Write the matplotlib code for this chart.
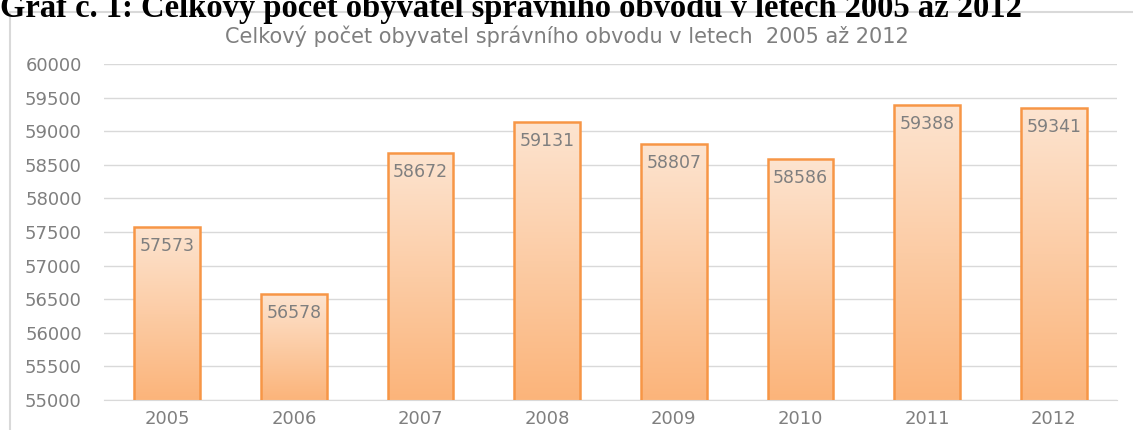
# population bar chart, 2005 - 2012
import numpy as np
import matplotlib.pyplot as plt
from matplotlib.colors import LinearSegmentedColormap
from matplotlib.patches import Rectangle

# data
years = ['2005', '2006', '2007', '2008', '2009', '2010', '2011', '2012']
population = [57573, 56578, 58672, 59131, 58807, 58586, 59388, 59341]
y_ticks = [55000, 55500, 56000, 56500, 57000, 57500, 58000, 58500, 59000, 59500, 60000]

heading = 'Graf č. 1: Celkový počet obyvatel správního obvodu v letech 2005 až 2012'
chart_title = 'Celkový počet obyvatel správního obvodu v letech  2005 až 2012'

fig = plt.figure(figsize=(11.33, 4.30), dpi=100)
ax = fig.add_axes([104 / 1133, 1 - 400 / 430, 1013 / 1133, 336 / 430])

# outer chart border
fig.patches.append(Rectangle((10 / 1133, -0.05), 1.1, 1 - 12 / 430 + 0.05,
                             transform=fig.transFigure, fill=False,
                             edgecolor='#d9d9d9', linewidth=1.5))

# heading above the chart (cut off at the top like the scan)
fig.text(0.0, 1 - 17 / 430, heading, family='Liberation Serif', weight='bold',
         fontsize=23.5, color='black', ha='left', va='baseline')

x = np.arange(len(years))
bars = ax.bar(x, population, width=0.52, bottom=0, color='none',
              edgecolor='#f79646', linewidth=1.8, zorder=3)

# gradient fill inside each bar
cmap = LinearSegmentedColormap.from_list('peach', ['#fbb47a', '#fde4d0'])
grad = np.linspace(0, 1, 256).reshape(-1, 1)
for b, v in zip(bars, population):
    im = ax.imshow(grad, cmap=cmap, aspect='auto', origin='lower',
                   extent=[b.get_x(), b.get_x() + b.get_width(), 55000, v], zorder=2)
    im.set_clip_path(b)
    ax.annotate(str(v), (b.get_x() + b.get_width() / 2, v), xytext=(0, -7),
                textcoords='offset points', ha='center', va='top',
                fontsize=12.5, color='#7f7f7f', zorder=4)

ax.set_xlim(-0.5, len(years) - 0.5)
ax.set_ylim(55000, 60000)
ax.set_yticks(y_ticks)
ax.set_xticks(x)
ax.set_xticklabels(years)
ax.tick_params(length=0, labelsize=13, colors='#7f7f7f')
ax.tick_params(axis='y', pad=16)
ax.tick_params(axis='x', pad=7)
ax.grid(axis='y', color='#d9d9d9', linewidth=1)
ax.set_axisbelow(True)
for s in ['top', 'right', 'left']:
    ax.spines[s].set_visible(False)
ax.spines['bottom'].set_color('#d9d9d9')

fig.text(0.5, 1 - 36 / 430, chart_title, ha='center', va='center',
         fontsize=15, color='#7f7f7f')

fig.savefig('out.png', dpi=100)
